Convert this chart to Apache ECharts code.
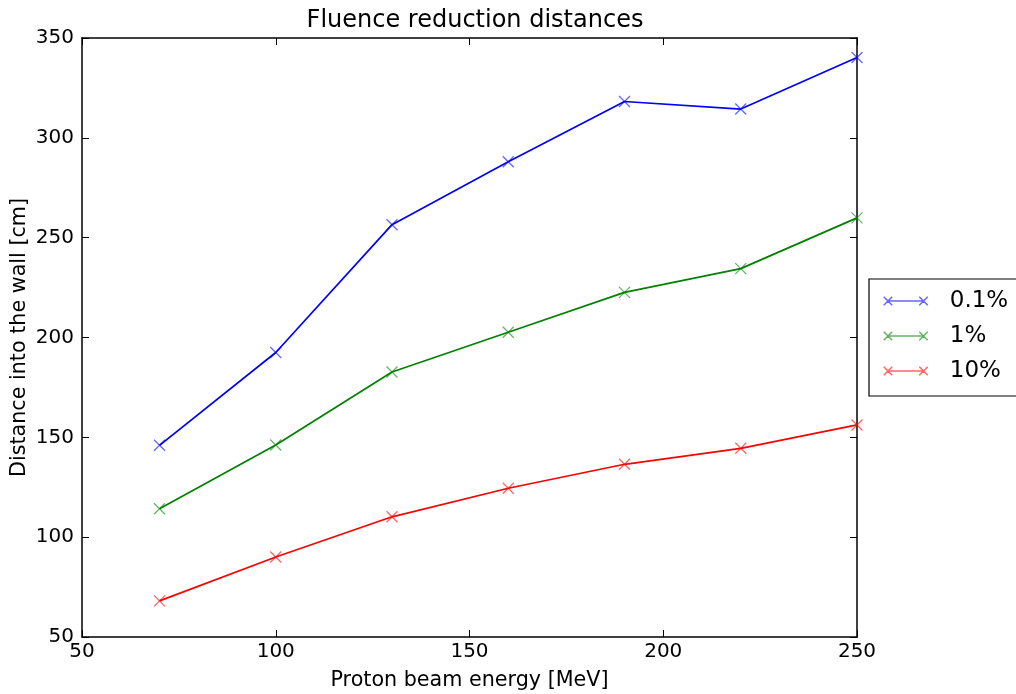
<!DOCTYPE html>
<html>
<head>
<meta charset="utf-8">
<script src="https://cdn.jsdelivr.net/npm/echarts@6/dist/echarts.min.js"></script>
<style>
  html, body { margin: 0; padding: 0; background: #fff; }
  #chart { width: 1016px; height: 694px; }
</style>
</head>
<body>
<div id="chart"></div>
<script>
// Proton beam energies [MeV]
const energies = [70, 100, 130, 160, 190, 220, 250];
// Distance into the wall [cm] at which the fluence drops to the given fraction
const dist01 = [146, 192.5, 256.5, 288, 318.2, 314.4, 340.2];
const dist1 = [114.2, 146.2, 182.7, 202.6, 222.6, 234.5, 259.9];
const dist10 = [68.1, 90.1, 110.2, 124.5, 136.5, 144.5, 156.2];
const seriesNames = ['0.1%', '1%', '10%'];
const seriesColors = ['#0000ff', '#008000', '#ff0000'];

const FONT = 'DejaVu Sans';
const crossMark = 'path://M0,0L10,10M10,0L0,10';
// legend key: a short line with a cross at each end
const legendKey = 'path://M1,5L43,5M-4,0L6,10M6,0L-4,10M38,0L48,10M48,0L38,10';

function pairs(ys) { return energies.map((x, i) => [x, ys[i]]); }

function lineSeries(name, ys, color) {
  return {
    name: name,
    type: 'line',
    data: pairs(ys),
    symbol: crossMark,
    symbolSize: 11,
    showAllSymbol: true,
    itemStyle: { color: 'rgba(0,0,0,0)', borderColor: color, borderWidth: 1.3, opacity: 0.6 },
    lineStyle: { color: color, width: 1.7 },
    emphasis: { disabled: true },
    animation: false,
    z: 3
  };
}

const tickStyle = { show: true, inside: true, length: 7, lineStyle: { color: '#000', width: 1 } };
const lineAxis = { show: true, lineStyle: { color: '#000', width: 1.5 } };

const chart = echarts.init(document.getElementById('chart'), null, { renderer: 'canvas' });
chart.setOption({
  backgroundColor: '#ffffff',
  animation: false,
  title: {
    text: 'Fluence reduction distances',
    left: 470, top: 4, textAlign: 'center',
    textStyle: { fontFamily: FONT, fontSize: 24, fontWeight: 'normal', color: '#000' }
  },
  grid: { left: 82, right: 159, top: 38, bottom: 57, containLabel: false, outerBoundsMode: 'none' },
  legend: {
    data: seriesNames.map((n, i) => ({
      name: n, icon: legendKey,
      itemStyle: { color: 'rgba(0,0,0,0)', borderColor: seriesColors[i], borderWidth: 1.5 }
    })),
    orient: 'vertical',
    left: 869, top: 279,
    padding: [9, 40, 12, 14],
    itemWidth: 44, itemHeight: 10, itemGap: 9,
    borderColor: '#000', borderWidth: 1.2, borderRadius: 0,
    backgroundColor: '#fff',
    textStyle: { fontFamily: FONT, fontSize: 23, color: '#000', lineHeight: 26, padding: [0, 0, 0, 17] }
  },
  xAxis: [{
    type: 'value', min: 50, max: 250, interval: 50,
    name: 'Proton beam energy [MeV]', nameLocation: 'middle', nameGap: 33, nameMoveOverlap: false,
    nameTextStyle: { fontFamily: FONT, fontSize: 20.7, color: '#000' },
    axisLine: lineAxis, axisTick: tickStyle, splitLine: { show: false },
    axisLabel: { fontFamily: FONT, fontSize: 20, color: '#000', margin: 5 }
  }, {
    type: 'value', position: 'top', min: 50, max: 250, interval: 50,
    axisLine: lineAxis, axisTick: tickStyle, splitLine: { show: false },
    axisLabel: { show: false }
  }],
  yAxis: [{
    type: 'value', min: 50, max: 350, interval: 50,
    name: 'Distance into the wall [cm]', nameLocation: 'middle', nameGap: 52, nameMoveOverlap: false,
    nameTextStyle: { fontFamily: FONT, fontSize: 20.7, color: '#000' },
    axisLine: lineAxis, axisTick: tickStyle, splitLine: { show: false },
    axisLabel: { fontFamily: FONT, fontSize: 20, color: '#000', margin: 8 }
  }, {
    type: 'value', position: 'right', min: 50, max: 350, interval: 50,
    axisLine: lineAxis, axisTick: tickStyle, splitLine: { show: false },
    axisLabel: { show: false }
  }],
  series: [
    lineSeries(seriesNames[0], dist01, seriesColors[0]),
    lineSeries(seriesNames[1], dist1, seriesColors[1]),
    lineSeries(seriesNames[2], dist10, seriesColors[2])
  ]
});
</script>
</body>
</html>
